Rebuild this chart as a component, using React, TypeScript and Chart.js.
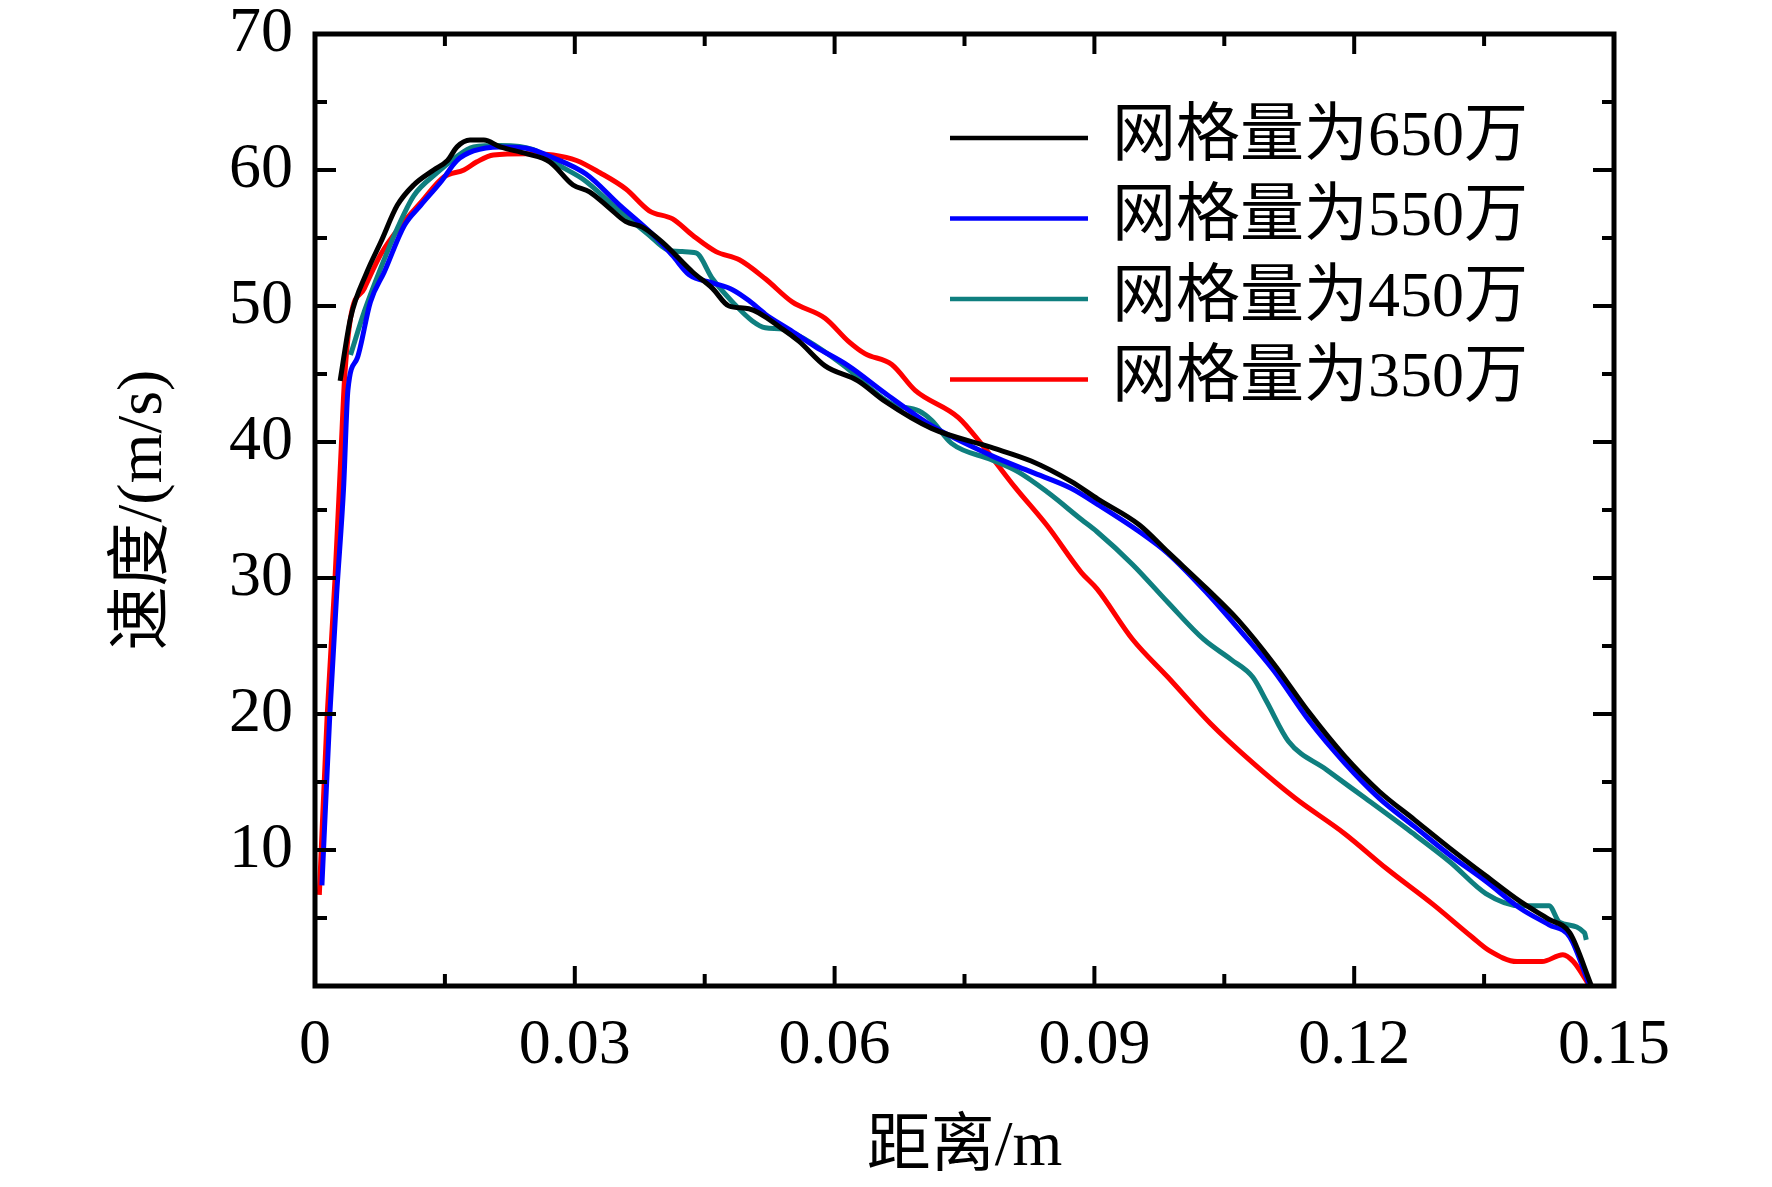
import { useEffect, useRef } from 'react';
import Chart from 'chart.js/auto';

const FONT = "'Liberation Serif', 'Noto Sans CJK SC', serif";

const X_TICKS = [0, 0.03, 0.06, 0.09, 0.12, 0.15];
const Y_TICKS = [0, 10, 20, 30, 40, 50, 60, 70];

const LABELS = ['网格量为650万', '网格量为550万', '网格量为450万', '网格量为350万'];
const COLORS = ['#000000', '#0000ff', '#0f7f7f', '#ff0000'];

// 650万
const X_650 = [
  0.0029, 0.0041, 0.006, 0.0076, 0.0095, 0.0114, 0.0137, 0.0153, 0.0164, 0.0179,
  0.0195, 0.0214, 0.0244, 0.0271, 0.0298, 0.0317, 0.034, 0.0359, 0.0378, 0.0401,
  0.0436, 0.0459, 0.0478, 0.0501, 0.054, 0.0559, 0.0589, 0.0627, 0.0658, 0.0712,
  0.0781, 0.0827, 0.0873, 0.0904, 0.0952, 0.0985, 0.103, 0.1066, 0.1107, 0.1148,
  0.1189, 0.1229, 0.127, 0.1311, 0.1352, 0.1392, 0.1425, 0.1449, 0.1474,
];
const V_650 = [
  44.5, 49.1, 52.5, 54.7, 57.4, 58.9, 60.0, 60.7, 61.7, 62.2,
  62.2, 61.7, 61.2, 60.6, 58.9, 58.4, 57.2, 56.2, 55.8, 54.7,
  52.5, 51.3, 50.0, 49.8, 48.3, 47.4, 45.6, 44.5, 43.0, 41.0,
  39.6, 38.6, 37.1, 35.8, 33.9, 31.9, 29.2, 26.9, 23.7, 20.1,
  16.9, 14.3, 12.2, 10.1, 8.1, 6.2, 4.9, 3.9, 0.0,
];

// 550万
const X_550 = [
  0.0008, 0.0017, 0.0025, 0.0033, 0.0038, 0.0049, 0.0064, 0.008, 0.0103, 0.0122,
  0.0145, 0.0164, 0.0183, 0.0214, 0.0244, 0.0275, 0.0313, 0.0352, 0.0391, 0.0413,
  0.0432, 0.0459, 0.0482, 0.0501, 0.052, 0.0547, 0.0578, 0.0616, 0.0658, 0.0712,
  0.0781, 0.0827, 0.0873, 0.0904, 0.0952, 0.0985, 0.103, 0.1066, 0.1107, 0.1148,
  0.1189, 0.1229, 0.127, 0.1311, 0.1352, 0.1392, 0.1425, 0.1449, 0.1472,
];
const V_550 = [
  7.4, 19.8, 28.8, 36.6, 43.8, 46.2, 50.3, 52.5, 55.9, 57.4,
  59.1, 60.7, 61.4, 61.7, 61.6, 60.9, 59.7, 57.4, 55.2, 53.7,
  52.3, 51.7, 51.2, 50.4, 49.4, 48.3, 47.0, 45.6, 43.6, 41.2,
  39.0, 37.8, 36.6, 35.4, 33.4, 31.8, 28.9, 26.3, 23.2, 19.5,
  16.4, 13.8, 11.7, 9.6, 7.7, 5.7, 4.5, 3.6, 0.0,
];

// 450万
const X_450 = [
  0.0041, 0.0057, 0.0076, 0.0095, 0.0114, 0.0141, 0.016, 0.0183, 0.0214, 0.0252,
  0.0283, 0.031, 0.0348, 0.0386, 0.0405, 0.0424, 0.044, 0.0459, 0.0482, 0.0505,
  0.052, 0.054, 0.057, 0.0609, 0.0666, 0.0697, 0.0712, 0.0735, 0.0781, 0.0812,
  0.0846, 0.0885, 0.0903, 0.0944, 0.0985, 0.1026, 0.1058, 0.1083, 0.1099, 0.1124,
  0.1168, 0.1213, 0.1262, 0.1311, 0.1352, 0.1392, 0.1425, 0.1437, 0.1466, 0.1468,
];
const V_450 = [
  46.4, 49.6, 52.8, 55.7, 58.1, 59.8, 60.8, 61.7, 61.8, 61.5,
  60.3, 59.3, 57.2, 55.2, 54.2, 54.0, 53.9, 52.0, 50.3, 48.9,
  48.4, 48.3, 47.4, 45.7, 42.8, 42.3, 41.6, 39.9, 38.7, 37.8,
  36.3, 34.3, 33.4, 31.0, 28.2, 25.5, 24.0, 22.7, 20.9, 18.0,
  15.9, 13.8, 11.5, 9.1, 6.8, 5.9, 5.9, 4.7, 3.9, 3.4,
];

// 350万
const X_350 = [
  0.0005, 0.0014, 0.0023, 0.003, 0.0034, 0.0041, 0.0057, 0.0076, 0.0099, 0.0122,
  0.0149, 0.0172, 0.0187, 0.0206, 0.0244, 0.0275, 0.0302, 0.0329, 0.0359, 0.0386,
  0.0413, 0.0436, 0.0463, 0.049, 0.052, 0.0551, 0.0589, 0.0616, 0.0635, 0.0666,
  0.0693, 0.0743, 0.0769, 0.0808, 0.0846, 0.0885, 0.0903, 0.0944, 0.0985, 0.1034,
  0.1083, 0.1132, 0.1189, 0.1238, 0.1291, 0.1336, 0.1356, 0.1388, 0.1417, 0.1441,
  0.1453, 0.1472,
];
const V_350 = [
  6.7, 19.8, 29.8, 39.2, 44.5, 49.1, 51.3, 53.8, 55.9, 57.6,
  59.5, 60.0, 60.6, 61.1, 61.2, 61.1, 60.7, 59.8, 58.6, 57.0,
  56.4, 55.2, 54.0, 53.4, 52.0, 50.3, 49.1, 47.4, 46.5, 45.7,
  43.8, 41.8, 39.9, 36.7, 33.8, 30.4, 29.2, 25.5, 22.7, 19.3,
  16.4, 13.8, 11.2, 8.6, 6.0, 3.6, 2.6, 1.8, 1.8, 2.3,
  1.8, 0.0,
];

const SERIES = [
  [X_650, V_650],
  [X_550, V_550],
  [X_450, V_450],
  [X_350, V_350],
];

const mids = (arr: number[]) => arr.slice(1).map((v, i) => (v + arr[i]) / 2);

// box frame with inward ticks on all four sides
const framePlugin = {
  id: 'frame',
  afterDatasetsDraw(chart: any) {
    const { ctx, chartArea: a, scales } = chart;
    const xs = scales.x;
    const ys = scales.y;
    ctx.save();
    ctx.strokeStyle = '#000';
    ctx.lineCap = 'butt';
    ctx.lineWidth = 4;
    const tick = (x1: number, y1: number, x2: number, y2: number) => {
      ctx.beginPath();
      ctx.moveTo(x1, y1);
      ctx.lineTo(x2, y2);
      ctx.stroke();
    };
    const drawX = (vals: number[], len: number) => {
      vals.forEach((v) => {
        const px = xs.getPixelForValue(v);
        tick(px, a.bottom, px, a.bottom - len);
        tick(px, a.top, px, a.top + len);
      });
    };
    const drawY = (vals: number[], len: number) => {
      vals.forEach((v) => {
        const py = ys.getPixelForValue(v);
        tick(a.left, py, a.left + len, py);
        tick(a.right, py, a.right - len, py);
      });
    };
    drawX(X_TICKS, 20);
    drawX(mids(X_TICKS), 12);
    drawY(Y_TICKS, 21);
    drawY(mids(Y_TICKS), 12);
    ctx.lineWidth = 5;
    ctx.strokeRect(a.left, a.top, a.right - a.left, a.bottom - a.top);
    ctx.restore();
  },
};

const legendPlugin = {
  id: 'insideLegend',
  afterDraw(chart: any) {
    const { ctx, chartArea: a } = chart;
    const x0 = a.left + 635;
    const x1 = a.left + 773;
    const tx = a.left + 797;
    let y = a.top + 104;
    ctx.save();
    ctx.font = `64px ${FONT}`;
    ctx.textBaseline = 'middle';
    ctx.textAlign = 'left';
    chart.data.datasets.forEach((ds: any) => {
      ctx.strokeStyle = ds.borderColor;
      ctx.lineWidth = 4.5;
      ctx.beginPath();
      ctx.moveTo(x0, y);
      ctx.lineTo(x1, y);
      ctx.stroke();
      ctx.fillStyle = '#000';
      ctx.fillText(ds.label, tx, y);
      y += 80.5;
    });
    ctx.restore();
  },
};

export default function App() {
  const canvasRef = useRef<HTMLCanvasElement>(null);
  const chartRef = useRef<Chart | null>(null);

  useEffect(() => {
    document.body.style.margin = '0';
    if (!canvasRef.current) return;
    const ctx = canvasRef.current.getContext('2d');
    if (!ctx) return;

    if (chartRef.current) {
      chartRef.current.destroy();
    }

    chartRef.current = new Chart(ctx, {
      type: 'line',
      data: {
        datasets: SERIES.map(([xs, vs], i) => ({
          label: LABELS[i],
          data: xs.map((x, j) => ({ x, y: vs[j] })),
          borderColor: COLORS[i],
          backgroundColor: COLORS[i],
          borderWidth: 5,
          pointRadius: 0,
          cubicInterpolationMode: 'monotone' as const,
          fill: false,
        })),
      },
      options: {
        responsive: false,
        animation: false,
        devicePixelRatio: 1,
        layout: { padding: { top: 34, right: 158, left: 0, bottom: 0 } },
        plugins: {
          legend: { display: false },
          tooltip: { enabled: false },
        },
        scales: {
          x: {
            type: 'linear',
            min: 0,
            max: 0.15,
            grid: { display: false, drawTicks: false },
            border: { display: false },
            afterBuildTicks: (scale: any) => {
              scale.ticks = X_TICKS.map((value) => ({ value }));
            },
            afterFit: (scale: any) => {
              scale.height = 201;
              scale.paddingLeft = 0;
              scale.paddingRight = 0;
              scale.paddingTop = 0;
              scale.paddingBottom = 0;
            },
            ticks: {
              color: '#000',
              padding: 28,
              maxRotation: 0,
              font: { family: FONT, size: 64, lineHeight: 1 },
              callback: (v: any) => (v === 0 ? '0' : Number(v).toFixed(2)),
            },
            title: {
              display: true,
              text: '距离/m',
              color: '#000',
              padding: { top: 0, bottom: 0 },
              font: { family: FONT, size: 64, lineHeight: 1.2 },
            },
          },
          y: {
            min: 0,
            max: 70,
            grid: { display: false, drawTicks: false },
            border: { display: false },
            afterBuildTicks: (scale: any) => {
              scale.ticks = Y_TICKS.map((value) => ({ value }));
            },
            afterFit: (scale: any) => {
              scale.width = 315;
              scale.paddingLeft = 0;
              scale.paddingRight = 0;
              scale.paddingTop = 0;
              scale.paddingBottom = 0;
            },
            ticks: {
              color: '#000',
              padding: 22,
              font: { family: FONT, size: 64, lineHeight: 1 },
              callback: (v: any) => (v === 0 ? '' : String(v)),
            },
            title: {
              display: true,
              text: '速度/(m/s)',
              color: '#000',
              padding: { top: 106, bottom: 0 },
              font: { family: FONT, size: 64, lineHeight: 1.2 },
            },
          },
        },
      },
      plugins: [framePlugin, legendPlugin],
    });

    return () => {
      if (chartRef.current) {
        chartRef.current.destroy();
        chartRef.current = null;
      }
    };
  }, []);

  return (
    <div style={{ width: 1772, height: 1187, background: '#fff' }}>
      <canvas ref={canvasRef} width="1772" height="1187" />
    </div>
  );
}
